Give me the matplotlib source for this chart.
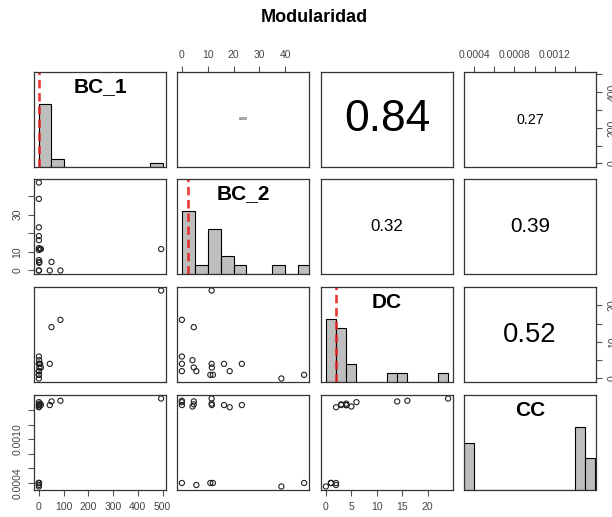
import numpy as np
import matplotlib.pyplot as plt

plt.rcParams['font.family'] = ['Liberation Sans', 'DejaVu Sans']

# centralidades por nodo (18 nodos)
nombres = ['BC_1', 'BC_2', 'DC', 'CC']
bc_1 = [494, 87, 51, 0, 44, 1, 2, 5, 8, 0, 0, 0, 0, 0, 0, 0, 0, 0]
bc_2 = [11.5, 0, 4.6, 0, 0, 4.1, 4.6, 11.5, 11.6, 16.3, 18.5, 23.2,
        0, 5.6, 11, 12, 38.5, 47.3]
dc = [24, 16, 14, 6, 4, 5, 3, 4, 3, 4, 2, 4, 2, 2, 1, 1, 0, 1]
cc = [0.00156, 0.00153, 0.00152, 0.00151, 0.00147, 0.00145, 0.00148,
      0.00149, 0.00147, 0.00147, 0.00144, 0.00147,
      0.000398, 0.00037, 0.000398, 0.000398, 0.00035, 0.000398]
datos = [np.array(bc_1), np.array(bc_2), np.array(dc), np.array(cc)]

# cortes de los histogramas
cortes = [np.arange(0, 501, 50),
          np.arange(0, 51, 5),
          np.arange(0, 25, 2),
          np.round(np.linspace(0.0003, 0.0016, 14), 6)]

# linea de referencia (roja) en la diagonal
referencia = [0, 2.3, 2, None]

# correlaciones del panel superior
cor_pares = [(0, 1), (0, 2), (0, 3), (1, 2), (1, 3), (2, 3)]
cor_valores = [0.008, 0.84, 0.27, 0.32, 0.39, 0.52]

# marcas de los ejes: horizontales (arriba/abajo) y verticales (izq/der)
marcas_h = {
    0: ([0, 100, 200, 300, 400, 500], ['0', '100', '200', '300', '400', '500']),
    1: ([0, 10, 20, 30, 40], ['0', '10', '20', '30', '40']),
    2: ([0, 5, 10, 15, 20], ['0', '5', '10', '15', '20']),
    3: ([0.0004, 0.0006, 0.0008, 0.0010, 0.0012, 0.0014],
        ['0.0004', '', '0.0008', '', '0.0012', '']),
}
marcas_v = {
    0: ([0, 100, 200, 300, 400, 500], ['0', '', '200', '', '400', '']),
    1: ([0, 10, 20, 30, 40], ['0', '10', '', '30', '']),
    2: ([0, 5, 10, 15, 20], ['0', '', '10', '', '20']),
    3: ([0.0004, 0.0006, 0.0008, 0.0010, 0.0012, 0.0014],
        ['0.0004', '', '', '0.0010', '', '']),
}


def rango(v):
    r = v.max() - v.min()
    return v.min() - 0.04 * r, v.max() + 0.04 * r


def conteo(v, bordes):
    # histograma cerrado por la derecha, como hist() de R
    idx = np.searchsorted(bordes, v, side='left') - 1
    idx[idx < 0] = 0
    return np.bincount(idx, minlength=len(bordes) - 1)


W, H = 612, 517
x_izq = [34, 177, 321, 464]
y_sup = [72, 179, 287, 395]
ancho, alto = 132, 95

fig = plt.figure(figsize=(W / 100, H / 100), dpi=100)
fig.text(314 / W, 1 - 18 / H, 'Modularidad', ha='center', va='center',
         fontsize=13, fontweight='bold')

gris = '#555555'
for i in range(4):
    for j in range(4):
        ax = fig.add_axes([x_izq[j] / W, 1 - (y_sup[i] + alto) / H,
                           ancho / W, alto / H])
        for s in ax.spines.values():
            s.set_color('#333333')
            s.set_linewidth(0.9)
        ax.tick_params(which='both', bottom=False, top=False, left=False,
                       right=False, labelbottom=False, labeltop=False,
                       labelleft=False, labelright=False)
        ax.set_xlim(rango(datos[j]))

        if i == j:
            ax.set_ylim(0, 1.5)
            cnt = conteo(datos[i], cortes[i])
            ax.bar(cortes[i][:-1], cnt / cnt.max(), width=np.diff(cortes[i]),
                   align='edge', color='#bebebe', edgecolor='black',
                   linewidth=0.8)
            if referencia[i] is not None:
                ax.axvline(referencia[i], color='#e8231f', lw=1.9,
                           ls=(0, (3.2, 1.8)), alpha=0.9)
            ax.text(0.5, 1 - 15 / alto, nombres[i], transform=ax.transAxes,
                    ha='center', va='center', fontsize=15, fontweight='bold')
        else:
            ax.set_ylim(rango(datos[i]))
            if i > j:
                ax.scatter(datos[j], datos[i], s=14, facecolors='none',
                           edgecolors='#222222', linewidths=0.8)
            else:
                r = cor_valores[cor_pares.index((i, j))]
                ax.text(0.5, 0.5, f'{r:g}', transform=ax.transAxes,
                        ha='center', va='center', fontsize=max(38 * r, 2.5))

        kw = dict(length=4.5, width=0.8, color=gris, labelsize=7.5,
                  labelcolor='#444444', pad=4)
        if i == 0 and j % 2 == 1:
            t, l = marcas_h[j]
            ax.set_xticks(t, l)
            ax.tick_params(axis='x', top=True, labeltop=True, **kw)
        if i == 3 and j % 2 == 0:
            t, l = marcas_h[j]
            ax.set_xticks(t, l)
            ax.tick_params(axis='x', bottom=True, labelbottom=True, **kw)
        if j == 0 and i % 2 == 1:
            t, l = marcas_v[i]
            ax.set_yticks(t, l, rotation=90, va='center')
            ax.tick_params(axis='y', left=True, labelleft=True, **kw)
        if j == 3 and i % 2 == 0:
            t, l = marcas_v[i]
            ax.set_yticks(t, l, rotation=90, va='center')
            ax.tick_params(axis='y', right=True, labelright=True, **kw)

fig.savefig('out.png', dpi=100)
